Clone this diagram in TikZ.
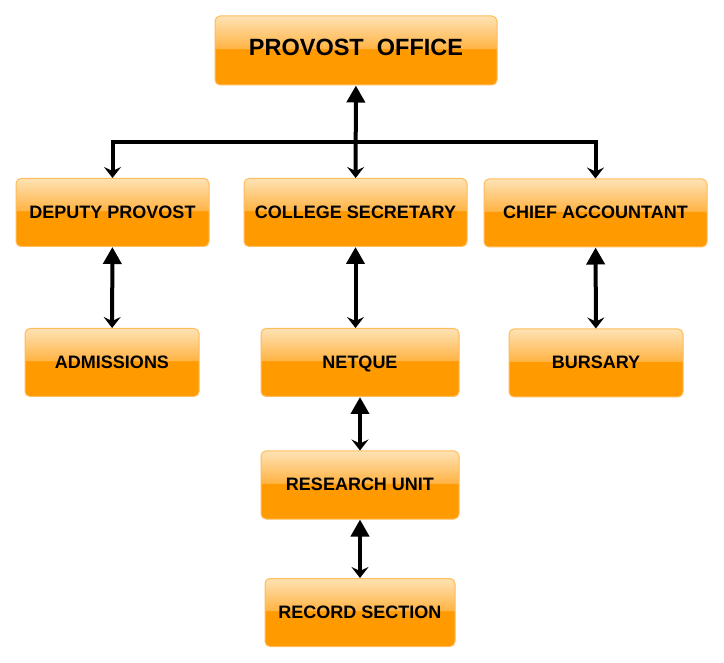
\documentclass[tikz,border=0pt]{standalone}
\usepackage{fontspec}
\setmainfont{Liberation Sans}
\usepackage{xcolor}
\usetikzlibrary{arrows.meta}
\definecolor{boxtop}{RGB}{254,226,180}
\definecolor{boxmid}{RGB}{255,180,70}
\definecolor{boxbot}{RGB}{255,154,0}
\definecolor{boxline}{RGB}{255,188,90}
\pgfdeclareverticalshading{glossy}{100bp}{color(0bp)=(boxbot); color(25bp)=(boxbot); color(51bp)=(boxbot); color(51.5bp)=(boxmid); color(75bp)=(boxtop); color(100bp)=(boxtop)}
\tikzset{unit/.style={draw=boxline,line width=1pt,rounded corners=5pt,shading=glossy,
   minimum height=68pt,inner sep=0pt,text height=12.9pt,text depth=1.5pt,
   font=\fontsize{18}{21}\selectfont\bfseries},
 head/.style={unit,minimum height=69pt,text height=16.8pt,text depth=6pt,
   font=\fontsize{23.5}{28}\selectfont\bfseries},
 link/.style={line width=4pt,{Triangle[length=17pt,width=18pt]}-{Stealth[length=11pt,width=17pt,inset=4pt]}},
 feed/.style={line width=4pt,-{Stealth[length=11pt,width=17pt,inset=4pt]}},
 }

\begin{document}
\begin{tikzpicture}[x=1pt,y=-1pt]
        \useasboundingbox (0,0) rectangle (724,663);

        \node[head,minimum width=282pt] (po) at (356,50.5) {PROVOST\ \ OFFICE};

        \node[unit,minimum width=193pt] (dp) at (112.5,212.5) {DEPUTY PROVOST};
        \node[unit,minimum width=223pt] (cs) at (355.5,212.5) {COLLEGE SECRETARY};
        \node[unit,minimum width=223pt] (ca) at (595.5,213) {CHIEF ACCOUNTANT};

        \node[unit,minimum width=174pt] (ad) at (112,362.5) {ADMISSIONS};
        \node[unit,minimum width=198pt] (nq) at (360,362.5) {NETQUE};
        \node[unit,minimum width=174pt] (bu) at (596,363) {BURSARY};

        \node[unit,minimum width=198pt] (rs) at (360,485) {RESEARCH UNIT};
        \node[unit,minimum width=190pt] (rc) at (360,612.5) {RECORD SECTION};

        \coordinate (bus) at (356,142);
        \draw[link] (po) -- (cs);
        \draw[feed] (bus) -| (dp);
        \draw[feed] (bus) -| (ca);

        \draw[link] (dp) -- (ad);
        \draw[link] (cs) -- (cs |- nq.north);
        \draw[link] (ca) -- (bu);
        \draw[link] (nq) -- (rs);
        \draw[link] (rs) -- (rc);
\end{tikzpicture}
\end{document}
